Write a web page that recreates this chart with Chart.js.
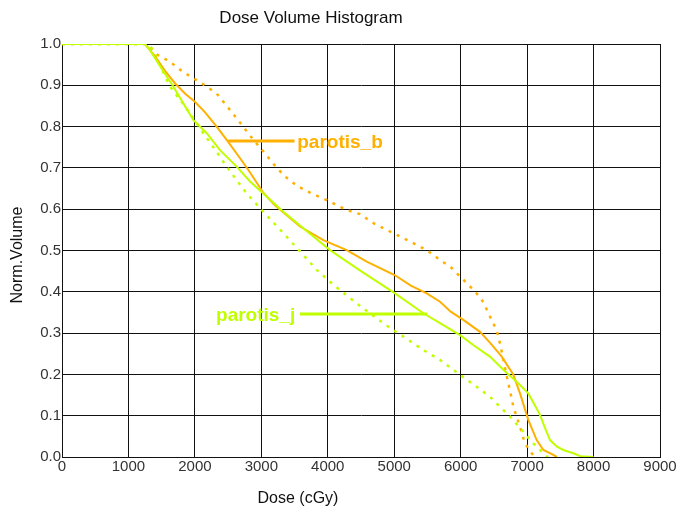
<!DOCTYPE html>
<html>
<head>
<meta charset="utf-8">
<script src="https://cdn.jsdelivr.net/npm/chart.js@4/dist/chart.umd.min.js"></script>
<style>
  html, body { margin: 0; padding: 0; background: #fff; }
  #wrap { width: 683px; height: 513px; position: relative; }
</style>
</head>
<body>
<div id="wrap"><canvas id="c"></canvas></div>
<script>
// ---------- DATA ----------
const chartTitle = 'Dose Volume Histogram';
const xAxisTitle = 'Dose (cGy)';
const yAxisTitle = 'Norm.Volume';
const xTicks = [0, 1000, 2000, 3000, 4000, 5000, 6000, 7000, 8000, 9000];
const yTicks = [0.0, 0.1, 0.2, 0.3, 0.4, 0.5, 0.6, 0.7, 0.8, 0.9, 1.0];

// parotis_b (orange) solid: [dose, volume]
const parotisB = [
  [0,1.0],[1250,1.0],[1400,0.97],[1550,0.935],[1700,0.905],[1850,0.88],[2000,0.86],
  [2150,0.835],[2328,0.80],[2479,0.768],[2650,0.73],[2805,0.695],[3030,0.64],
  [3200,0.61],[3582,0.558],[3933,0.525],[4285,0.501],[4586,0.473],[5012,0.44],
  [5250,0.415],[5489,0.396],[5690,0.376],[5850,0.352],[6040,0.332],[6291,0.303],
  [6450,0.275],[6618,0.243],[6793,0.199],[6893,0.154],[7018,0.09],[7144,0.041],
  [7245,0.017],[7395,0.005],[7450,0.0]
];
// parotis_b (orange) dotted
const parotisBDotted = [
  [0,1.0],[1275,1.0],[1425,0.975],[1625,0.957],[1800,0.935],[1976,0.917],[2150,0.9],
  [2328,0.88],[2480,0.85],[2629,0.82],[2750,0.795],[2880,0.768],[3030,0.74],
  [3181,0.71],[3350,0.68],[3532,0.657],[3733,0.64],[3984,0.622],[4285,0.598],
  [4485,0.588],[4700,0.565],[4937,0.546],[5200,0.525],[5489,0.501],[5690,0.477],
  [5850,0.46],[5990,0.437],[6100,0.42],[6241,0.396],[6341,0.375],[6441,0.34],
  [6542,0.307],[6600,0.27],[6642,0.235],[6718,0.178],[6793,0.122],[6893,0.073],
  [6968,0.033],[7069,0.009],[7120,0.0]
];
// parotis_j (green) solid
const parotisJ = [
  [0,1.0],[1250,1.0],[1325,0.985],[1500,0.94],[1675,0.897],[1830,0.855],[1976,0.816],
  [2178,0.784],[2378,0.743],[2629,0.703],[2830,0.667],[3030,0.638],[3331,0.594],
  [3700,0.545],[4034,0.501],[4500,0.45],[5012,0.396],[5439,0.348],[5690,0.324],
  [5990,0.295],[6200,0.27],[6441,0.243],[6650,0.21],[6843,0.182],[7018,0.154],
  [7100,0.13],[7194,0.102],[7270,0.07],[7345,0.041],[7450,0.025],[7545,0.017],
  [7696,0.009],[7800,0.002],[8000,0.0]
];
// parotis_j (green) dotted
const parotisJDotted = [
  [0,1.0],[1300,1.0],[1375,0.985],[1500,0.94],[1625,0.897],[1800,0.86],[1926,0.832],
  [2127,0.784],[2300,0.745],[2479,0.703],[2630,0.67],[2780,0.638],[3030,0.594],
  [3331,0.542],[3600,0.495],[3833,0.453],[4100,0.415],[4435,0.372],[4700,0.34],
  [4987,0.307],[5200,0.285],[5439,0.259],[5690,0.235],[5990,0.199],[6200,0.175],
  [6441,0.146],[6600,0.12],[6743,0.098],[6943,0.061],[7094,0.033],[7245,0.009],
  [7300,0.0],[7450,0.0]
];

// Leader lines and labels (data coordinates)
const labelNames = ['parotis_b', 'parotis_j'];
const leaderB = [[2500,0.765],[3500,0.765]];
const leaderJ = [[3580,0.346],[5494,0.346]];
const labelAnchorB = [3540, 0.760];   // text starts here (left aligned)
const labelAnchorJ = [3510, 0.343];   // text ends here (right aligned)

// ---------- STYLE ----------
const ORANGE = '#FFB000';
const GREEN = '#BFFF00';
const toXY = arr => arr.map(p => ({x: p[0], y: p[1]}));

const textPlugin = {
  id: 'texts',
  afterDatasetsDraw(chart) {
    const ctx = chart.ctx;
    const xs = chart.scales.x, ys = chart.scales.y;
    ctx.save();
    ctx.textBaseline = 'middle';
    ctx.font = 'bold 19px "Liberation Sans", Arial, sans-serif';
    ctx.fillStyle = ORANGE;
    ctx.textAlign = 'left';
    ctx.fillText(labelNames[0], xs.getPixelForValue(labelAnchorB[0]), ys.getPixelForValue(labelAnchorB[1]));
    ctx.fillStyle = GREEN;
    ctx.textAlign = 'right';
    ctx.fillText(labelNames[1], xs.getPixelForValue(labelAnchorJ[0]), ys.getPixelForValue(labelAnchorJ[1]));
    ctx.restore();
  },
  afterDraw(chart) {
    const ctx = chart.ctx;
    ctx.save();
    ctx.fillStyle = '#111';
    ctx.textAlign = 'center';
    ctx.textBaseline = 'middle';
    ctx.font = '17px "Liberation Sans", Arial, sans-serif';
    ctx.fillText(chartTitle, 311, 18);
    ctx.font = '16px "Liberation Sans", Arial, sans-serif';
    ctx.fillText(xAxisTitle, 298, 499);
    ctx.translate(18, 255);
    ctx.rotate(-Math.PI / 2);
    ctx.fillText(yAxisTitle, 0, 0);
    ctx.restore();
  }
};

const tickFont = { family: '"Liberation Sans", Arial, sans-serif', size: 15 };

new Chart(document.getElementById('c'), {
  type: 'scatter',
  data: {
    datasets: [
      { label: 'parotis_j', data: toXY(parotisJ), showLine: true, borderColor: GREEN, borderWidth: 2, pointRadius: 0, order: 1 },
      { label: 'parotis_b', data: toXY(parotisB), showLine: true, borderColor: ORANGE, borderWidth: 2, pointRadius: 0, order: 2 },
      { label: 'parotis_j dotted', data: toXY(parotisJDotted), showLine: true, borderColor: GREEN, borderWidth: 2.5, borderDash: [3, 6], pointRadius: 0, order: 3 },
      { label: 'parotis_b dotted', data: toXY(parotisBDotted), showLine: true, borderColor: ORANGE, borderWidth: 2.5, borderDash: [3, 6], pointRadius: 0, order: 4 },
      { label: 'leader b', data: toXY(leaderB), showLine: true, borderColor: ORANGE, borderWidth: 3, pointRadius: 0, order: 0 },
      { label: 'leader j', data: toXY(leaderJ), showLine: true, borderColor: GREEN, borderWidth: 3, pointRadius: 0, order: 0 }
    ]
  },
  options: {
    responsive: true,
    maintainAspectRatio: false,
    animation: false,
    layout: { padding: { top: 44, right: 23, left: 0, bottom: 0 } },
    plugins: { legend: { display: false }, title: { display: false }, tooltip: { enabled: false } },
    scales: {
      x: {
        type: 'linear', min: 0, max: 9000,
        afterFit: s => { s.height = 56; },
        afterBuildTicks: s => { s.ticks = xTicks.map(v => ({ value: v })); },
        ticks: { font: tickFont, color: '#333', padding: 1, maxRotation: 0, autoSkip: false, callback: v => String(v) },
        grid: { color: '#111', lineWidth: 1, drawTicks: false },
        border: { color: '#111', width: 1 }
      },
      y: {
        type: 'linear', min: 0, max: 1,
        afterFit: s => { s.width = 62; },
        afterBuildTicks: s => { s.ticks = yTicks.map(v => ({ value: v })); },
        ticks: { font: tickFont, color: '#333', padding: 1, autoSkip: false, callback: v => Number(v).toFixed(1) },
        grid: { color: '#111', lineWidth: 1, drawTicks: false },
        border: { color: '#111', width: 1 }
      }
    }
  },
  plugins: [textPlugin]
});
</script>
</body>
</html>
